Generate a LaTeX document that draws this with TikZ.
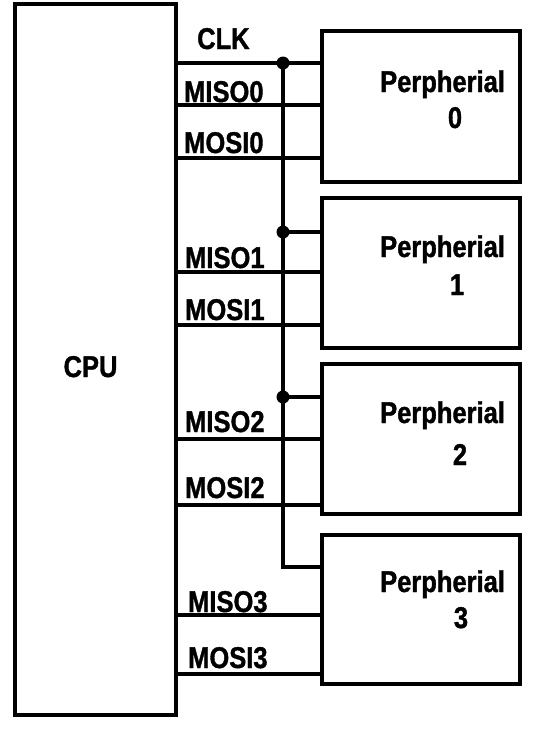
\documentclass[tikz,border=0pt]{standalone}
\usepackage{fontspec}
\setmainfont{Liberation Sans}[FakeStretch=0.85,BoldFeatures={FakeBold=1.2}]
\begin{document}
\begin{tikzpicture}[x=1pt,y=-1pt,
  box/.style={draw,line width=4pt,inner sep=0pt},
  wire/.style={line width=4pt},
  lbl/.style={inner sep=0pt,anchor=base west,font=\fontsize{30}{36}\selectfont\bfseries},
  dig/.style={inner sep=0pt,anchor=base,font=\fontsize{30}{36}\selectfont\bfseries},
  dot/.style={circle,fill,inner sep=0pt,minimum size=13pt}]
\useasboundingbox (0,0) rectangle (547,729);
% CPU box
\node[box,minimum width=161pt,minimum height=711pt] (cpu) at (95.5,359.5) {};
\node[dig] (cputxt) at (90.5,377) {CPU};
% peripherals
\node[box,minimum width=198pt,minimum height=151pt] (p0) at (421,106.5) {};
\node[box,minimum width=198pt,minimum height=150pt] (p1) at (421,273) {};
\node[box,minimum width=198pt,minimum height=150pt] (p2) at (421,439) {};
\node[box,minimum width=198pt,minimum height=149pt] (p3) at (421,609.5) {};
\node[lbl] (p0a) at (380,92) {Perpherial};
\node[dig] (p0b) at (455,128) {0};
\node[lbl] (p1a) at (380,257) {Perpherial};
\node[dig] (p1b) at (457,295) {1};
\node[lbl] (p2a) at (380,423) {Perpherial};
\node[dig] (p2b) at (460,465) {2};
\node[lbl] (p3a) at (380,592) {Perpherial};
\node[dig] (p3b) at (461,628) {3};
% bus junctions
\node[dot] (j0) at (283,63) {};
\node[dot] (j1) at (283,232) {};
\node[dot] (j2) at (283,397) {};
\coordinate (j3) at (283,567);
% CLK wiring
\draw[wire] (cpu.east |- j0) -- (p0.west |- j0);
\draw[wire] (j0.center) -- (j3) -- (p3.west |- j3);
\draw[wire] (j1.center) -- (p1.west |- j1);
\draw[wire] (j2.center) -- (p2.west |- j2);
% data wires
\coordinate (w0a) at (0,105);
\coordinate (w0b) at (0,158);
\coordinate (w1a) at (0,272);
\coordinate (w1b) at (0,325);
\coordinate (w2a) at (0,439);
\coordinate (w2b) at (0,505);
\coordinate (w3a) at (0,615);
\coordinate (w3b) at (0,674);
\draw[wire] (cpu.east |- w0a) -- (p0.west |- w0a);
\draw[wire] (cpu.east |- w0b) -- (p0.west |- w0b);
\draw[wire] (cpu.east |- w1a) -- (p1.west |- w1a);
\draw[wire] (cpu.east |- w1b) -- (p1.west |- w1b);
\draw[wire] (cpu.east |- w2a) -- (p2.west |- w2a);
\draw[wire] (cpu.east |- w2b) -- (p2.west |- w2b);
\draw[wire] (cpu.east |- w3a) -- (p3.west |- w3a);
\draw[wire] (cpu.east |- w3b) -- (p3.west |- w3b);
% labels
\node[lbl] (lclk) at (197,49) {CLK};
\node[lbl] (l0a) at (184,102) {MISO0};
\node[lbl] (l0b) at (184,153) {MOSI0};
\node[lbl] (l1a) at (185,268) {MISO1};
\node[lbl] (l1b) at (185,320) {MOSI1};
\node[lbl] (l2a) at (185,432) {MISO2};
\node[lbl] (l2b) at (185,498) {MOSI2};
\node[lbl] (l3a) at (188,612) {MISO3};
\node[lbl] (l3b) at (188,668) {MOSI3};
\end{tikzpicture}
\end{document}
